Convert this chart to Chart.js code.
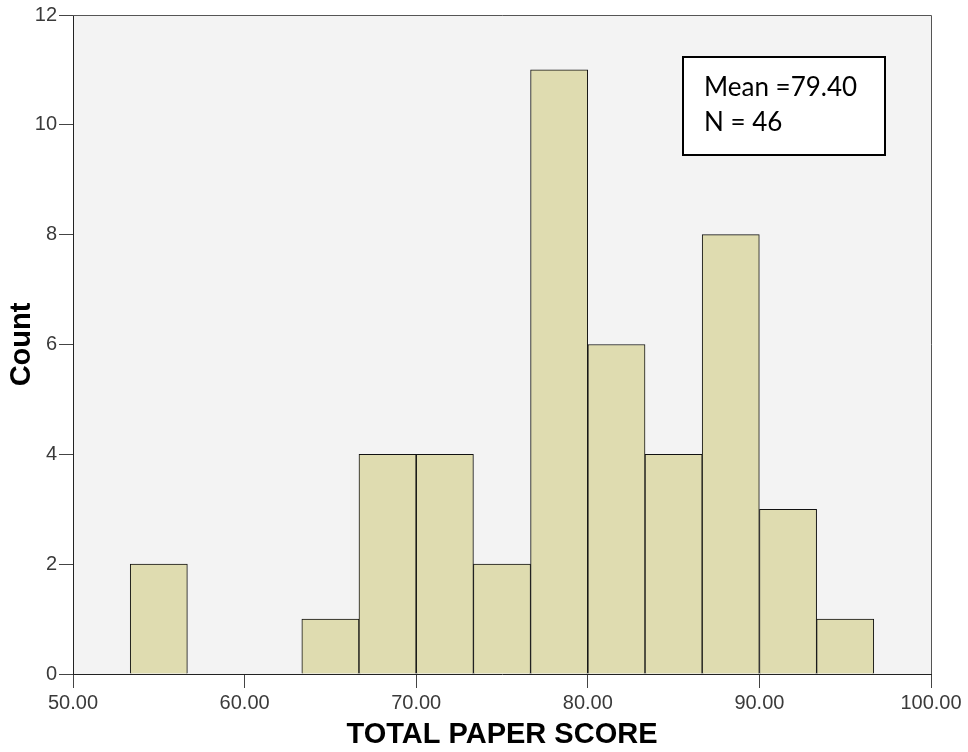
<!DOCTYPE html>
<html>
<head>
<meta charset="utf-8">
<script src="https://cdn.jsdelivr.net/npm/chart.js@4/dist/chart.umd.min.js"></script>
<style>
  html, body { margin: 0; padding: 0; background: #fff; }
  #wrap { width: 968px; height: 752px; }
</style>
</head>
<body>
<div id="wrap"><canvas id="histChart" width="968" height="752"></canvas></div>
<script>
// histogram bins (centres) and counts
const binCentres = [55, 58.33, 61.67, 65, 68.33, 71.67, 75, 78.33, 81.67, 85, 88.33, 91.67, 95];
const counts = [2, 0, 0, 1, 4, 4, 2, 11, 6, 4, 8, 3, 1];
const xTicks = [50, 60, 70, 80, 90, 100];
const yTicks = [0, 2, 4, 6, 8, 10, 12];
const statsLines = ["Mean =79.40", "N = 46"];

// background + frame + stats box
const plotDecor = {
  id: "plotDecor",
  beforeDraw(chart) {
    const { ctx, chartArea: a } = chart;
    ctx.save();
    ctx.fillStyle = "#ffffff";
    ctx.fillRect(0, 0, chart.width, chart.height);
    ctx.fillStyle = "#f3f3f3";
    ctx.fillRect(a.left, a.top, a.right - a.left, a.bottom - a.top);
    ctx.restore();
  },
  afterDraw(chart) {
    const { ctx, chartArea: a } = chart;
    ctx.save();
    ctx.strokeStyle = "#555";
    ctx.lineWidth = 1;
    ctx.beginPath();
    ctx.moveTo(a.left, a.top + 0.5);
    ctx.lineTo(a.right + 0.5, a.top + 0.5);
    ctx.lineTo(a.right + 0.5, a.bottom);
    ctx.stroke();

    // stats box, top right of plot
    const bx = a.right - 248, by = a.top + 42, bw = 202, bh = 98;
    ctx.fillStyle = "#fff";
    ctx.fillRect(bx, by, bw, bh);
    ctx.strokeStyle = "#000";
    ctx.lineWidth = 2;
    ctx.strokeRect(bx, by, bw, bh);
    ctx.fillStyle = "#000";
    ctx.font = "26px Lato, 'Open Sans', sans-serif";
    ctx.textBaseline = "alphabetic";
    statsLines.forEach((t, i) => ctx.fillText(t, bx + 21, by + 39 + i * 35));
    ctx.restore();
  }
};

const ctx = document.getElementById("histChart").getContext("2d");
new Chart(ctx, {
  type: "bar",
  data: {
    datasets: [{
      data: binCentres.map((x, i) => ({ x: x, y: counts[i] || null })),
      backgroundColor: "#dfdcb0",
      borderColor: "#111",
      borderWidth: 1,
      barPercentage: 1,
      categoryPercentage: 1
    }]
  },
  plugins: [plotDecor],
  options: {
    responsive: false,
    animation: false,
    layout: { padding: { top: 15, right: 37, left: 0, bottom: 0 } },
    plugins: { legend: { display: false }, tooltip: { enabled: false } },
    scales: {
      x: {
        type: "linear",
        min: 50,
        max: 100,
        offset: false,
        afterBuildTicks(scale) { scale.ticks = xTicks.map(v => ({ value: v })); },
        afterFit(scale) { scale.height = 78; },
        grid: { drawOnChartArea: false, tickLength: 14, color: "#444", offset: false },
        border: { color: "#222", width: 1 },
        ticks: {
          padding: 3,
          color: "#3a3a3a",
          font: { family: "Arial, 'Liberation Sans'", size: 20 },
          callback: v => v.toFixed(2)
        },
        title: {
          display: true,
          text: "TOTAL PAPER SCORE",
          color: "#000",
          padding: { top: 0, bottom: 0 },
          font: { family: "Arial, 'Liberation Sans'", size: 29, weight: "bold" }
        }
      },
      y: {
        min: 0,
        max: 12,
        afterBuildTicks(scale) { scale.ticks = yTicks.map(v => ({ value: v })); },
        afterFit(scale) { scale.width = 73; },
        grid: { drawOnChartArea: false, tickLength: 14, color: "#444" },
        border: { color: "#222", width: 1 },
        ticks: {
          padding: 2,
          color: "#3a3a3a",
          font: { family: "Arial, 'Liberation Sans'", size: 20 }
        },
        title: {
          display: true,
          text: "Count",
          color: "#000",
          padding: { top: 5, bottom: 0 },
          font: { family: "Arial, 'Liberation Sans'", size: 29, weight: "bold" }
        }
      }
    }
  }
});
</script>
</body>
</html>
